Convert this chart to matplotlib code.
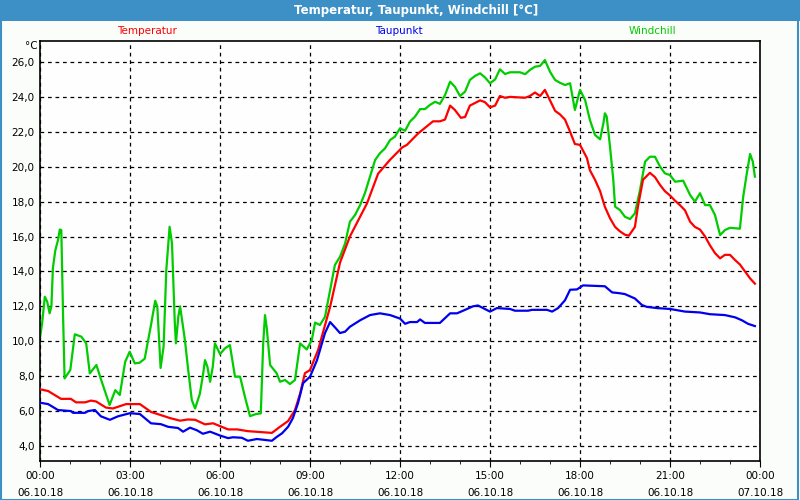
import matplotlib
matplotlib.use('Agg')
import matplotlib.pyplot as plt
from matplotlib.patches import Rectangle
from matplotlib.ticker import MultipleLocator, FixedLocator

# values, time in hours since 06.10.18 00:00

temp_h = [0.00, 0.27, 0.70, 1.03, 1.20, 1.50, 1.70, 1.87, 2.20, 2.43, 2.87, 3.33, 3.70, 4.10,
          4.33, 4.67, 4.93, 5.17, 5.50, 5.77, 6.27, 6.57, 6.93, 7.33, 7.73, 8.00, 8.27, 8.50,
          8.67, 8.83, 9.00, 9.27, 9.67, 10.00, 10.33, 10.90, 11.27, 11.67, 11.90, 12.07, 12.23,
          12.60, 13.10, 13.33, 13.50, 13.67, 13.83, 14.03, 14.17, 14.33, 14.67, 14.83, 15.00,
          15.17, 15.33, 15.50, 15.67, 16.17, 16.33, 16.50, 16.67, 16.83, 17.00, 17.17, 17.33,
          17.50, 17.67, 17.83, 18.00, 18.23, 18.33, 18.50, 18.67, 18.83, 19.00, 19.17, 19.33,
          19.50, 19.63, 19.83, 19.93, 20.10, 20.33, 20.50, 20.67, 20.83, 21.00, 21.17, 21.33,
          21.50, 21.67, 21.83, 22.00, 22.17, 22.33, 22.50, 22.67, 22.83, 23.00, 23.17, 23.33,
          23.50, 23.67, 23.83]
temp = [7.25, 7.15, 6.7, 6.7, 6.5, 6.5, 6.6, 6.55, 6.2, 6.15, 6.4, 6.4, 5.95, 5.73,
        5.6, 5.45, 5.52, 5.5, 5.24, 5.3, 4.95, 4.95, 4.85, 4.8, 4.75, 5.1, 5.43, 6.06,
        7.0, 8.17, 8.35, 9.5, 11.97, 14.5, 16.0, 17.9, 19.6, 20.4, 20.8, 21.1, 21.25,
        21.9, 22.6, 22.6, 22.7, 23.5, 23.25, 22.8, 22.85, 23.5, 23.8, 23.7, 23.4,
        23.5, 24.05, 23.95, 24.0, 23.95, 24.05, 24.25, 24.05, 24.4, 23.8, 23.2, 23.0,
        22.7, 22.0, 21.3, 21.25, 20.5, 19.8, 19.25, 18.6, 17.7, 17.05, 16.55, 16.3,
        16.1, 16.05, 16.55, 17.7, 19.25, 19.65, 19.4, 18.95, 18.6, 18.35, 18.05, 17.8,
        17.5, 16.85, 16.55, 16.4, 16.0, 15.5, 15.05, 14.75, 14.95, 14.95, 14.65, 14.4,
        14.0, 13.6, 13.3]

dew_h = [0.00, 0.27, 0.60, 1.03, 1.10, 1.50, 1.60, 1.83, 2.03, 2.33, 2.60, 3.00, 3.33, 3.70,
         4.03, 4.27, 4.60, 4.77, 5.00, 5.23, 5.43, 5.67, 6.00, 6.27, 6.43, 6.73, 6.93, 7.23,
         7.73, 7.90, 8.07, 8.27, 8.43, 8.60, 8.77, 9.00, 9.23, 9.50, 9.67, 9.83, 10.00, 10.17,
         10.33, 10.67, 11.00, 11.33, 11.67, 12.00, 12.17, 12.33, 12.57, 12.67, 12.83, 13.33,
         13.67, 13.90, 14.17, 14.43, 14.60, 14.77, 15.00, 15.23, 15.67, 15.83, 16.27, 16.40,
         16.90, 17.07, 17.27, 17.50, 17.67, 17.90, 18.10, 18.83, 19.07, 19.33, 19.50, 19.83,
         20.07, 20.23, 20.57, 21.00, 21.50, 22.00, 22.33, 22.83, 23.17, 23.40, 23.60, 23.83]
dew = [6.48, 6.4, 6.06, 6.0, 5.9, 5.9, 6.0, 6.06, 5.7, 5.5, 5.7, 5.88, 5.83, 5.3,
       5.25, 5.1, 5.03, 4.82, 5.05, 4.9, 4.7, 4.82, 4.6, 4.45, 4.5, 4.47, 4.3, 4.4,
       4.3, 4.53, 4.73, 5.1, 5.6, 6.45, 7.6, 7.97, 8.9, 10.47, 11.1, 10.8, 10.47, 10.55,
       10.83, 11.2, 11.5, 11.6, 11.5, 11.3, 11.0, 11.1, 11.1, 11.25, 11.05, 11.05,
       11.6, 11.6, 11.8, 12.0, 12.05, 11.9, 11.7, 11.9, 11.85, 11.75, 11.75, 11.8,
       11.8, 11.7, 11.9, 12.35, 12.95, 12.97, 13.2, 13.15, 12.8, 12.75, 12.7, 12.45,
       12.07, 11.97, 11.9, 11.85, 11.7, 11.65, 11.55, 11.5, 11.37, 11.2, 11.0, 10.87]

wind_h = [0.00, 0.07, 0.16, 0.24, 0.32, 0.38, 0.43, 0.51, 0.60, 0.66, 0.71, 0.77, 0.82, 1.01,
          1.16, 1.38, 1.54, 1.66, 1.88, 2.04, 2.32, 2.51, 2.66, 2.84, 2.99, 3.16, 3.32, 3.49,
          3.71, 3.84, 3.91, 4.02, 4.12, 4.21, 4.32, 4.40, 4.49, 4.53, 4.61, 4.67, 4.72, 4.83,
          4.94, 5.06, 5.17, 5.33, 5.44, 5.50, 5.58, 5.67, 5.76, 5.83, 6.00, 6.17, 6.33, 6.50,
          6.67, 6.83, 7.00, 7.20, 7.36, 7.44, 7.50, 7.56, 7.67, 7.89, 8.00, 8.17, 8.33, 8.50,
          8.67, 8.89, 9.06, 9.17, 9.33, 9.50, 9.67, 9.83, 10.00, 10.17, 10.33, 10.50, 10.67,
          10.83, 11.00, 11.17, 11.33, 11.50, 11.67, 11.83, 12.00, 12.17, 12.33, 12.50, 12.67,
          12.83, 13.00, 13.17, 13.33, 13.50, 13.67, 13.83, 14.00, 14.17, 14.33, 14.50, 14.67,
          14.83, 15.00, 15.17, 15.33, 15.50, 15.67, 16.00, 16.17, 16.33, 16.50, 16.67, 16.83,
          17.00, 17.17, 17.33, 17.50, 17.67, 17.83, 18.00, 18.17, 18.33, 18.50, 18.67, 18.78,
          18.83, 18.89, 19.00, 19.11, 19.17, 19.33, 19.50, 19.67, 19.83, 20.00, 20.17, 20.33,
          20.50, 20.67, 20.83, 21.00, 21.17, 21.44, 21.67, 21.83, 22.00, 22.17, 22.33, 22.50,
          22.67, 22.83, 23.00, 23.33, 23.44, 23.56, 23.67, 23.76, 23.83]
wind = [10.2, 11.03, 12.55, 12.27, 11.6, 12.0, 14.2, 15.2, 15.8, 16.4, 16.37, 11.4, 7.87, 8.35,
        10.4, 10.26, 9.88, 8.16, 8.64, 7.78, 6.35, 7.2, 6.92, 8.83, 9.4, 8.73, 8.77, 9.0,
        11.03, 12.32, 12.0, 8.47, 9.7, 14.08, 16.56, 15.6, 11.2, 9.88, 11.4, 12.0, 11.4, 10.07,
        8.35, 6.63, 6.15, 7.0, 8.16, 8.92, 8.54, 7.68, 8.54, 9.88, 9.27, 9.6, 9.78, 7.97,
        7.97, 6.82, 5.71, 5.83, 5.87, 9.88, 11.5, 10.74, 8.64, 8.16, 7.68, 7.78, 7.55, 7.78,
        9.88, 9.53, 10.07, 11.07, 10.93, 11.4, 12.93, 14.37, 14.84, 15.6, 16.85, 17.23, 17.8,
        18.48, 19.43, 20.38, 20.77, 21.05, 21.53, 21.72, 22.2, 22.06, 22.58, 22.87, 23.3,
        23.3, 23.54, 23.72, 23.6, 24.1, 24.87, 24.58, 24.05, 24.3, 24.97, 25.2, 25.35,
        25.12, 24.78, 25.0, 25.58, 25.31, 25.41, 25.41, 25.3, 25.54, 25.73, 25.77, 26.11,
        25.44, 24.97, 24.81, 24.68, 24.78, 23.25, 24.4, 23.82, 22.68, 21.82, 21.57, 22.49,
        23.06, 22.87, 21.15, 19.24, 17.71, 17.52, 17.13, 17.0, 17.33, 18.66, 20.29, 20.57,
        20.57, 20.0, 19.62, 19.52, 19.14, 19.2, 18.38, 18.0, 18.48, 17.8, 17.8, 17.23,
        16.08, 16.37, 16.5, 16.45, 18.28, 19.62, 20.73, 20.29, 19.43]

xticks = [0, 3, 6, 9, 12, 15, 18, 21, 24]
xlabels = ['00:00\n06.10.18', '03:00\n06.10.18', '06:00\n06.10.18', '09:00\n06.10.18',
           '12:00\n06.10.18', '15:00\n06.10.18', '18:00\n06.10.18', '21:00\n06.10.18',
           '00:00\n07.10.18']
yticks = [4, 6, 8, 10, 12, 14, 16, 18, 20, 22, 24, 26]

series_names = ['Temperatur', 'Taupunkt', 'Windchill']
series_colors = ['#ff0000', '#0000ee', '#00cc00']

fig = plt.figure(figsize=(8, 5), dpi=100)
fig.patch.set_facecolor('#fbfdfb')

# blue title bar and thin window border
fig.patches.append(Rectangle((0, 0.959), 1, 0.041, transform=fig.transFigure,
                             facecolor='#3d90c5', edgecolor='none', zorder=0))
fig.patches.append(Rectangle((0.001, 0.001), 0.997, 0.997, transform=fig.transFigure,
                             facecolor='none', edgecolor='#3d90c5', lw=1.5, zorder=0))
fig.text(0.52, 0.979, 'Temperatur, Taupunkt, Windchill [°C]', color='white',
         fontsize=8.5, fontweight='bold', ha='center', va='center')

ax = fig.add_axes([0.05, 0.078, 0.90, 0.841])
ax.set_facecolor('#fdfefd')

ax.plot(temp_h, temp, color=series_colors[0], lw=1.6, zorder=3)
ax.plot(dew_h, dew, color=series_colors[1], lw=1.6, zorder=3)
ax.plot(wind_h, wind, color=series_colors[2], lw=1.6, zorder=2)

ax.set_xlim(0, 24)
ax.set_ylim(3.14, 27.23)

ax.xaxis.set_major_locator(FixedLocator(xticks))
ax.set_xticklabels(xlabels, fontsize=7.5, linespacing=1.85)
ax.xaxis.set_minor_locator(MultipleLocator(1))
ax.set_yticks(yticks)
ax.set_yticklabels([f'{v:.1f}'.replace('.', ',') for v in yticks], fontsize=7.5)

ax.tick_params(axis='x', which='major', length=4, direction='out', pad=3)
ax.tick_params(axis='x', which='minor', length=2.5, direction='out')
ax.tick_params(axis='y', length=0, pad=4)

ax.grid(True, which='major', color='black', linestyle=(0, (3, 3)), lw=0.9)
for sp in ax.spines.values():
    sp.set_linewidth(1.2)

# series names above the plot
label_x = [0.184, 0.499, 0.815]
for name, col, lx in zip(series_names, series_colors, label_x):
    fig.text(lx, 0.937, name, color=col, fontsize=7.5, ha='center', va='center')
fig.text(0.039, 0.908, '°C', fontsize=7.5, ha='center', va='center')

fig.savefig('out.png', dpi=100, facecolor=fig.get_facecolor())
